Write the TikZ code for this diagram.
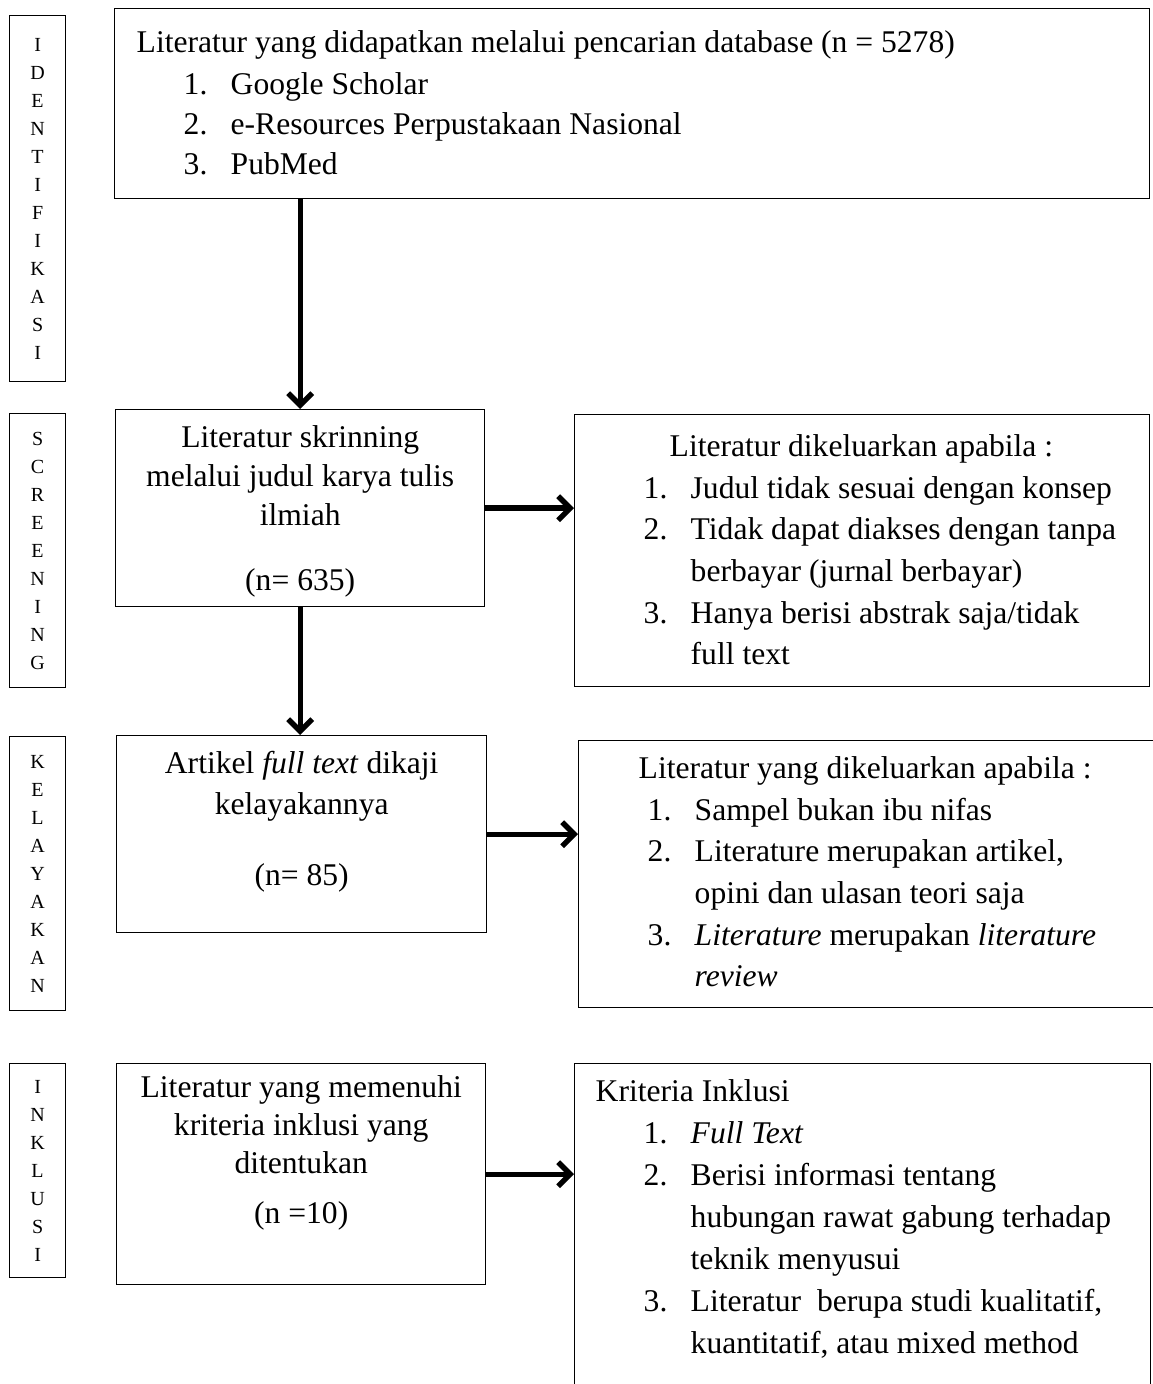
\documentclass[tikz,border=0pt]{standalone}
\usepackage{fontspec}
\setmainfont{Liberation Serif}
\usetikzlibrary{arrows.meta}

\newcommand{\boxbody}[4][8pt]{\parbox[c][#3][t]{#2}{\vspace*{#1}#4}}
\newcommand{\numitem}[2]{\hspace*{34.5pt}\makebox[23.5pt][l]{#1}#2}
\newcommand{\contitem}[1]{\hspace*{58pt}#1}

\tikzset{
  flowbox/.style={draw, line width=0.7pt, inner sep=0pt, anchor=north west},
  phase/.style={draw, line width=0.6pt, inner sep=0pt, anchor=north west,
    minimum width=28pt, align=center, font=\fontsize{10}{14}\selectfont},
  flow/.style={line width=2.7pt, -{Straight Barb[length=6pt,width=12pt]}}
}

\begin{document}
\begin{tikzpicture}[x=0.5pt, y=-0.5pt, font=\fontsize{15.8}{20.8}\selectfont]
  \useasboundingbox (0,0) rectangle (1152,1384);
  \node[phase, minimum height=183pt] (idt) at (9,15) {I\\D\\E\\N\\T\\I\\F\\I\\K\\A\\S\\I};
  \node[phase, minimum height=137pt] (scrn) at (9,413) {S\\C\\R\\E\\E\\N\\I\\N\\G};
  \node[phase, minimum height=137pt] (kel) at (9,736) {K\\E\\L\\A\\Y\\A\\K\\A\\N};
  \node[phase, minimum height=107pt] (ink) at (9,1063) {I\\N\\K\\L\\U\\S\\I};

  \node[flowbox] (lit) at (114,8) {\boxbody[11pt]{517.5pt}{95pt}{\raggedright\fontsize{15.8}{20}\selectfont
    \hspace*{11pt}Literatur yang didapatkan melalui pencarian database (n = 5278)\\[1pt]
    \numitem{1.}{Google Scholar}\\
    \numitem{2.}{e-Resources Perpustakaan Nasional}\\
    \numitem{3.}{PubMed}}};
  \node[flowbox] (scr) at (115,409) {\boxbody{184.5pt}{98.5pt}{\centering\fontsize{15.8}{19.5}\selectfont
    Literatur skrinning\\ melalui judul karya tulis\\ ilmiah\\[13pt] (n= 635)}};
  \node[flowbox] (exc1) at (574,414) {\boxbody[10pt]{287.5pt}{136pt}{\raggedright
    \hspace*{47.5pt}Literatur dikeluarkan apabila :\\
    \numitem{1.}{Judul tidak sesuai dengan konsep}\\
    \numitem{2.}{Tidak dapat diakses dengan tanpa}\\
    \contitem{berbayar (jurnal berbayar)}\\
    \numitem{3.}{Hanya berisi abstrak saja/tidak}\\
    \contitem{full text}}};
  \node[flowbox] (art) at (116,735) {\boxbody{185pt}{98.5pt}{\centering\fontsize{15.8}{20.5}\selectfont
    Artikel \textit{full text} dikaji\\ kelayakannya\\[15pt] (n= 85)}};
  \node[flowbox] (exc2) at (578,740) {\boxbody{291pt}{133.5pt}{\raggedright
    \hspace*{30pt}Literatur yang dikeluarkan apabila :\\
    \numitem{1.}{Sampel bukan ibu nifas}\\
    \numitem{2.}{Literature merupakan artikel,}\\
    \contitem{opini dan ulasan teori saja}\\
    \numitem{3.}{\textit{Literature} merupakan \textit{literature}}\\
    \contitem{\textit{review}}}};
  \node[flowbox] (inc) at (116,1063) {\boxbody[6pt]{184.5pt}{110.5pt}{\centering\fontsize{15.8}{19}\selectfont
    Literatur yang memenuhi\\ kriteria inklusi yang\\ ditentukan\\[6pt] (n =10)}};
  \node[flowbox] (krit) at (574,1063) {\boxbody{288pt}{168.5pt}{\raggedright\fontsize{15.8}{21}\selectfont
    \hspace*{10.5pt}Kriteria Inklusi\\
    \numitem{1.}{\textit{Full Text}}\\
    \numitem{2.}{Berisi informasi tentang}\\
    \contitem{hubungan rawat gabung terhadap}\\
    \contitem{teknik menyusui}\\
    \numitem{3.}{Literatur~ berupa studi kualitatif,}\\
    \contitem{kuantitatif, atau mixed method}}};

  \draw[flow] (lit.south -| scr.north) -- (scr.north);
  \draw[flow] (scr.east) -- (scr.east -| exc1.west);
  \draw[flow] (scr.south) -- (scr.south |- art.north);
  \draw[flow] (art.east) -- (art.east -| exc2.west);
  \draw[flow] (inc.east) -- (inc.east -| krit.west);
\end{tikzpicture}
\end{document}
